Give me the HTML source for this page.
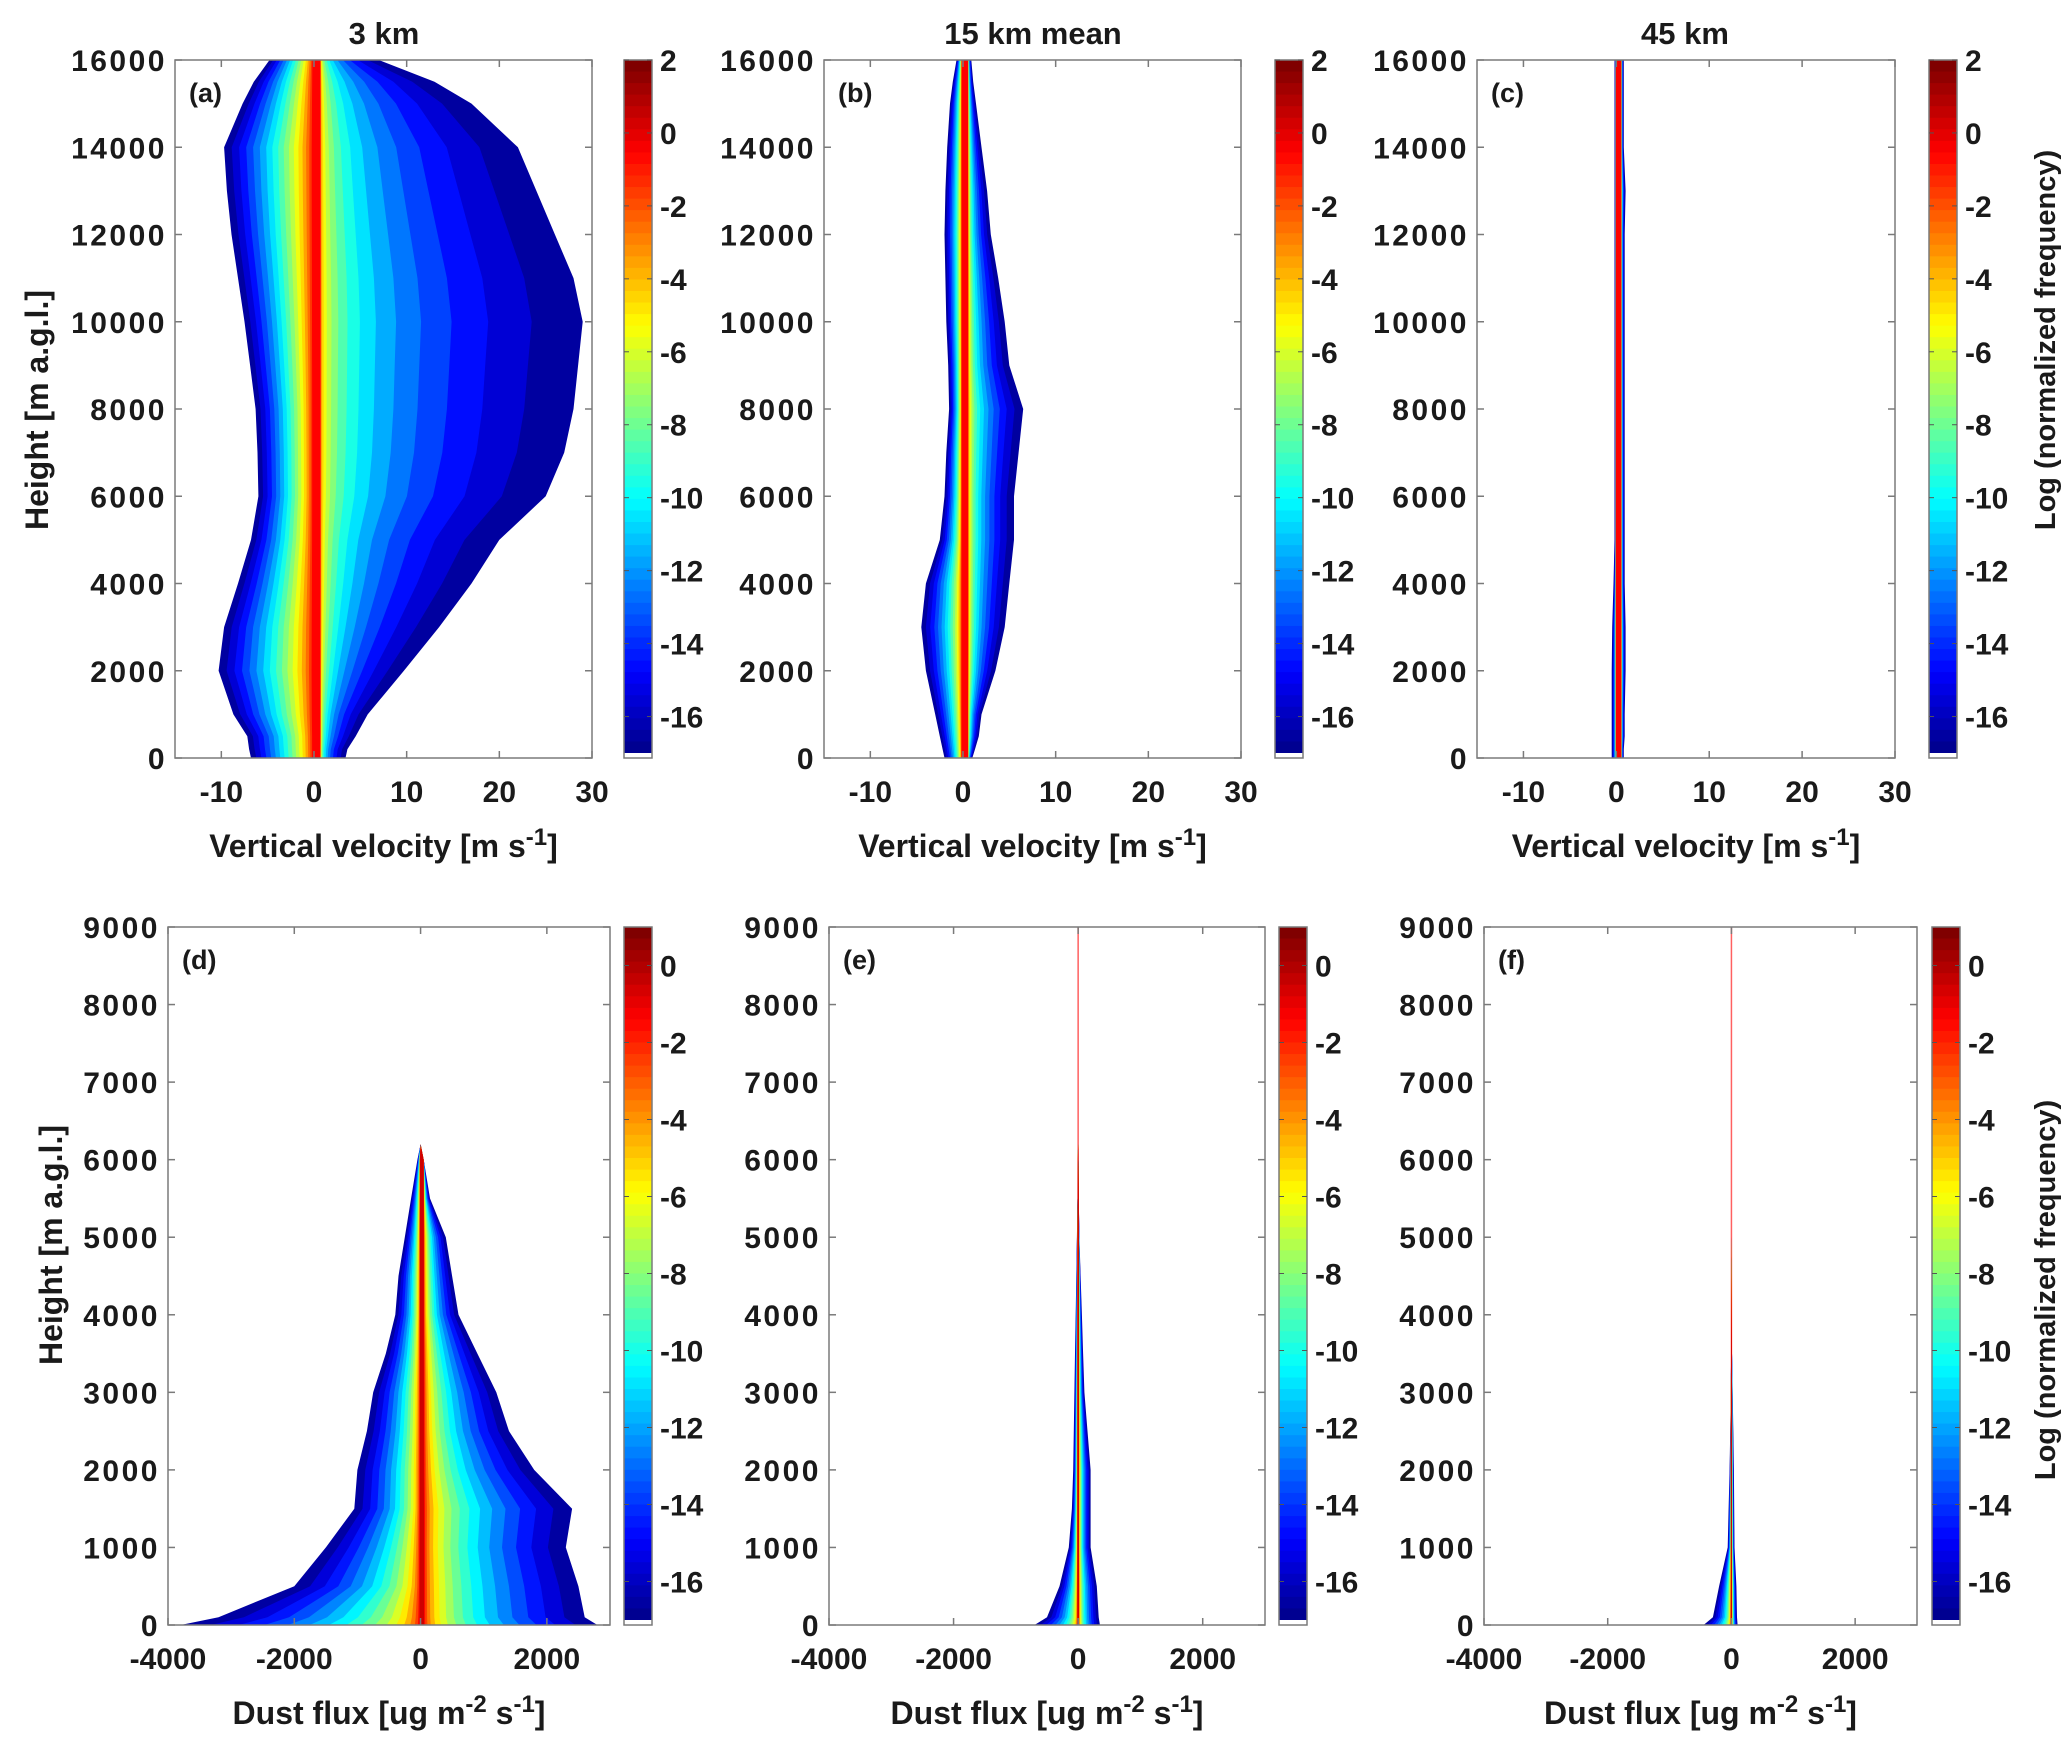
<!DOCTYPE html>
<html><head><meta charset="utf-8"><style>
html,body{margin:0;padding:0;background:#fff}
svg{display:block}
text{font-family:"Liberation Sans",Arial,sans-serif;font-weight:bold;fill:#1a1a1a}
</style></head><body>
<svg id="fig" width="2067" height="1745" viewBox="0 0 2067 1745" xmlns="http://www.w3.org/2000/svg"></svg>
<script>
// ---- data ----
const topHeights=[0,200,500,1000,2000,3000,4000,5000,6000,7000,8000,9000,10000,11000,12000,13000,14000,15000,15500,16000];
const aLeft =[-6.8,-7,-7.2,-8.7,-10.3,-9.7,-8.2,-6.8,-6,-6.1,-6.3,-6.9,-7.5,-8.2,-8.9,-9.4,-9.7,-7.7,-6.5,-4.8];
const aRight=[3.4,3.6,4.5,5.8,9.7,13.5,17,20,25,27,28,28.5,29,28,26,24,22,17,13,7];
const bLeft =[-2,-2.2,-2.5,-3,-4,-4.5,-4,-2.5,-2,-1.8,-1.5,-1.6,-1.8,-1.9,-2,-1.9,-1.7,-1.4,-1.1,-0.7];
const bRight=[1,1.3,1.7,2,3.5,4.5,5,5.5,5.5,6,6.5,5,4.5,3.8,3,2.6,2,1.4,1.1,0.9];
const cLeft =[-0.5,-0.5,-0.5,-0.5,-0.5,-0.45,-0.3,-0.2,-0.2,-0.2,-0.2,-0.2,-0.2,-0.2,-0.2,-0.2,-0.2,-0.2,-0.2,-0.2];
const cRight=[0.8,0.8,0.9,0.9,1.0,1.0,0.9,0.9,0.9,0.9,0.9,0.9,0.9,0.9,0.9,1.0,0.8,0.8,0.8,0.8];
const dustHeights=[0,100,500,1000,1500,2000,2500,3000,3500,4000,4500,5000,5500,6000,6200];
const dLeft =[-3800,-3200,-2000,-1500,-1050,-1000,-850,-750,-550,-400,-350,-250,-150,-50,0];
const dRight=[2800,2600,2500,2300,2400,1800,1400,1200,900,600,500,400,150,50,0];
const eLeft =[-700,-500,-300,-150,-100,-80,-70,-60,-50,-40,-30,-20,-10,-5,0];
const eRight=[350,330,300,200,200,200,150,100,80,60,40,20,10,5,0];
const fLeft =[-450,-300,-200,-60,-45,-30,-20,-10,-5,-3,-1,0,0,0,0];
const fRight=[100,90,80,50,45,40,30,20,10,5,2,0,0,0,0];
const topYTicks=[0,2000,4000,6000,8000,10000,12000,14000,16000];
const topXTicks=[-10,0,10,20,30];
const dustYTicks=[0,1000,2000,3000,4000,5000,6000,7000,8000,9000];
const dustXTicks=[-4000,-2000,0,2000];
const cbTopTicks=[2,0,-2,-4,-6,-8,-10,-12,-14,-16];
const cbBotTicks=[0,-2,-4,-6,-8,-10,-12,-14,-16];
const levels=[-17,-16,-15,-14,-13,-12,-11,-10,-9,-8,-7,-6,-5,-4,-3,-2,-1];

const NS="http://www.w3.org/2000/svg";
const svg=document.getElementById('fig');
function mk(tag,attrs,parent){const e=document.createElementNS(NS,tag);for(const k in attrs)e.setAttribute(k,attrs[k]);(parent||svg).appendChild(e);return e;}
function jet(t){t=Math.max(0,Math.min(1,t));const c=v=>Math.round(255*Math.max(0,Math.min(1,v)));
  return `rgb(${c(1.5-Math.abs(4*t-3))},${c(1.5-Math.abs(4*t-2))},${c(1.5-Math.abs(4*t-1))})`;}

function panel(p){
  const g=mk('g',{});
  
  
  const xs=v=>p.x0+(v-p.xmin)/(p.xmax-p.xmin)*(p.x1-p.x0);
  const ys=h=>p.y1-h/p.hmax*(p.y1-p.y0);
  if(p.line){const ln=mk('line',{x1:xs(0),x2:xs(0),y1:p.y0,y2:p.y1,stroke:'#ff6060','stroke-width':1.5},g);
    }
  levels.forEach(L=>{
    const fl=Math.pow(-L/17,1/p.pL), fr=Math.pow(-L/17,1/p.pR);
    const left=[],right=[];
    p.hs.forEach((h,i)=>{
      const wl=p.c-p.left[i], wr=p.right[i]-p.c;
      const dl=Math.min(wl,p.core)+Math.max(0,wl-p.core)*fl;
      const dr=Math.min(wr,p.core)+Math.max(0,wr-p.core)*fr;
      left.push(xs(p.c-dl).toFixed(1)+','+ys(h).toFixed(1));
      right.unshift(xs(p.c+dr).toFixed(1)+','+ys(h).toFixed(1));
    });
    const poly=mk('polygon',{points:left.concat(right).join(' '),fill:jet((L+0.6+17)/(p.vmax+17)),stroke:'none'},g);
    
    
  });
  const fr=mk('rect',{x:p.x0,y:p.y0,width:p.x1-p.x0,height:p.y1-p.y0,fill:'none',stroke:'#7a7a7a','stroke-width':1.5},g);
  
  p.xt.forEach(v=>{const x=xs(v);
    mk('line',{x1:x,x2:x,y1:p.y1,y2:p.y1-7,stroke:'#7a7a7a','stroke-width':1.5},g);
    mk('line',{x1:x,x2:x,y1:p.y0,y2:p.y0+7,stroke:'#7a7a7a','stroke-width':1.5},g);
    const t=mk('text',{x:x,y:p.y1+44,'text-anchor':'middle','font-size':30},g);t.textContent=v;
    });
  p.yt.forEach(v=>{const y=ys(v);
    mk('line',{x1:p.x0,x2:p.x0+7,y1:y,y2:y,stroke:'#7a7a7a','stroke-width':1.5},g);
    mk('line',{x1:p.x1,x2:p.x1-7,y1:y,y2:y,stroke:'#7a7a7a','stroke-width':1.5},g);
    const t=mk('text',{x:p.x0-8,y:y+11,'text-anchor':'end','font-size':30,'letter-spacing':2.5},g);t.textContent=v;
    });
  const lab=mk('text',{x:p.x0+14,y:p.y0+42,'font-size':27},g);lab.textContent=p.label;
  
  const xl=mk('text',{x:(p.x0+p.x1)/2,y:p.y1+99,'text-anchor':'middle','font-size':32},g);
  
  xl.innerHTML=p.xlabel;
  const cb=mk('g',{},g);
  const n=60,cbH=p.y1-p.y0-5;
  for(let i=0;i<n;i++){const v0=p.vmax-(p.vmax+17)*i/n;
    mk('rect',{x:p.cbx,y:p.y0+cbH*i/n,width:28,height:cbH/n+0.8,fill:jet((v0+17)/(p.vmax+17)),stroke:'none'},cb);}
  mk('rect',{x:p.cbx,y:p.y1-5,width:28,height:5,fill:'#fff',stroke:'none'},cb);
  mk('rect',{x:p.cbx,y:p.y0,width:28,height:p.y1-p.y0,fill:'none',stroke:'#7a7a7a','stroke-width':1.5},cb);
  const cy=v=>p.y0+(p.vmax-v)/(p.vmax+17)*cbH;
  p.cbt.forEach(v=>{const y=cy(v);
    mk('line',{x1:p.cbx,x2:p.cbx+5,y1:y,y2:y,stroke:'#555'},cb);mk('line',{x1:p.cbx+28,x2:p.cbx+23,y1:y,y2:y,stroke:'#555'},cb);
    const t=mk('text',{x:p.cbx+36,y:y+11,'font-size':30},cb);t.textContent=v;
    });
}
const VX='Vertical velocity [m s<tspan dy="-12" font-size="24">-1</tspan><tspan dy="12">]</tspan>';
const DX='Dust  flux [ug m<tspan dy="-12" font-size="24">-2</tspan><tspan dy="12"> s</tspan><tspan dy="-12" font-size="24">-1</tspan><tspan dy="12">]</tspan>';
const T={y0:60,y1:758,xmin:-15,xmax:30,hmax:16000,hs:topHeights,xt:topXTicks,yt:topYTicks,vmax:2,cbt:cbTopTicks,xlabel:VX};
const B={y0:927,y1:1625,xmin:-4000,xmax:3000,hmax:9000,hs:dustHeights,xt:dustXTicks,yt:dustYTicks,vmax:1,cbt:cbBotTicks,xlabel:DX};
panel(Object.assign({},T,{name:'panel-a',label:'(a)',x0:175,x1:592,cbx:624,left:aLeft,right:aRight,c:0.3,core:0.4,pL:0.68,pR:0.28}));
panel(Object.assign({},T,{name:'panel-b',label:'(b)',x0:824,x1:1241,cbx:1275,left:bLeft,right:bRight,c:0.2,core:0.35,pL:0.5,pR:0.35}));
panel(Object.assign({},T,{name:'panel-c',label:'(c)',x0:1477,x1:1895,cbx:1929,left:cLeft,right:cRight,c:0.25,core:0.3,pL:0.3,pR:0.3}));
panel(Object.assign({},B,{name:'panel-d',label:'(d)',x0:168,x1:610,cbx:624,left:dLeft,right:dRight,c:20,core:30,pL:0.45,pR:0.45}));
panel(Object.assign({},B,{name:'panel-e',label:'(e)',x0:829,x1:1265,cbx:1279,left:eLeft,right:eRight,c:0,core:12,pL:0.4,pR:0.4,line:true}));
panel(Object.assign({},B,{name:'panel-f',label:'(f)',x0:1484,x1:1917,cbx:1932,left:fLeft,right:fRight,c:0,core:8,pL:0.4,pR:0.4,line:true}));
function txt(s,x,y,size,name,rot){const t=mk('text',{x:x,y:y,'text-anchor':'middle','font-size':size});
  if(rot)t.setAttribute('transform',`rotate(-90 ${x} ${y})`);t.textContent=s;
  }
txt('3 km',384,44,31,'title-3km');
txt('15 km  mean',1033,44,31,'title-15km-mean');
txt('45 km',1685,44,31,'title-45km');
txt('Height  [m a.g.l.]',48,410,32,'y-axis-title-top',true);
txt('Height  [m a.g.l.]',62,1245,32,'y-axis-title-bottom',true);
txt('Log (normalized  frequency)',2055,340,29,'colorbar-title-top',true);
txt('Log (normalized  frequency)',2055,1290,29,'colorbar-title-bottom',true);
</script>
</body></html>
